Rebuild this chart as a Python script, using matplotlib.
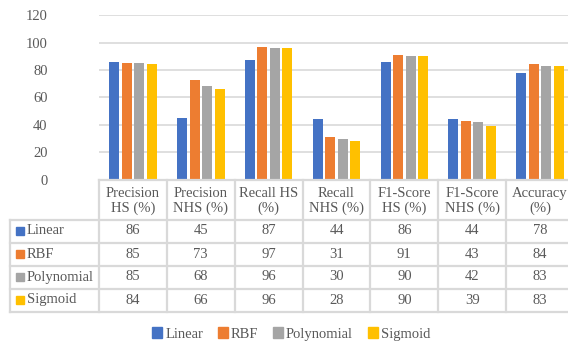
import matplotlib
matplotlib.use("Agg")
import matplotlib.pyplot as plt
from matplotlib.patches import Rectangle
import numpy as np

categories = ["Precision\nHS (%)", "Precision\nNHS (%)", "Recall HS\n(%)", "Recall\nNHS (%)",
              "F1-Score\nHS (%)", "F1-Score\nNHS (%)", "Accuracy\n(%)"]
series_names = ["Linear", "RBF", "Polynomial", "Sigmoid"]
linear = [86, 45, 87, 44, 86, 44, 78]
rbf = [85, 73, 97, 31, 91, 43, 84]
polynomial = [85, 68, 96, 30, 90, 42, 83]
sigmoid = [84, 66, 96, 28, 90, 39, 83]
series_values = [linear, rbf, polynomial, sigmoid]
colors = ["#4472C4", "#ED7D31", "#A5A5A5", "#FFC000"]
y_ticks = [0, 20, 40, 60, 80, 100, 120]

plt.rcParams["font.family"] = ["Liberation Serif", "DejaVu Serif"]
TEXT = "#595959"
GRID = "#D9D9D9"
FS = 10.5

W, H = 568, 343
fig = plt.figure(figsize=(W / 100, H / 100), dpi=100)

# chart area (pixel layout)
x0, x1 = 99, 574
y_top, y_zero = 15, 180
ax = fig.add_axes([x0 / W, 1 - y_zero / H, (x1 - x0) / W, (y_zero - y_top) / H])
ax.set_xlim(-0.5, len(categories) - 0.5)
ax.set_ylim(0, 120)
ax.set_yticks(y_ticks)
ax.set_yticklabels([str(t) for t in y_ticks], color=TEXT, fontsize=FS)
ax.tick_params(axis="y", length=0, pad=37)
ax.set_xticks([])
for s in ax.spines.values():
    s.set_visible(False)
ax.grid(axis="y", color=GRID, linewidth=1.2)
ax.set_axisbelow(True)

n = len(series_names)
x = np.arange(len(categories))
bw, step = 0.147, 0.184
for i, (vals, c) in enumerate(zip(series_values, colors)):
    ax.bar(x + (i - (n - 1) / 2) * step, vals, width=bw, color=c, zorder=3)

# data table drawn in pixel coordinates
tab = fig.add_axes([0, 0, 1, 1], zorder=5)
tab.set_xlim(0, W)
tab.set_ylim(H, 0)
tab.axis("off")
tab.patch.set_alpha(0)

col_w = (x1 - x0) / len(categories)
header_bot = 219.5
row_h = 23.0
rows_y = [header_bot + k * row_h for k in range(n + 1)]
lw = 1.6
# horizontal lines
tab.plot([x0, x1], [y_zero, y_zero], color=GRID, lw=lw)
for yy in rows_y:
    tab.plot([10, x1], [yy, yy], color=GRID, lw=lw)
# vertical lines
tab.plot([10, 10], [header_bot, rows_y[-1]], color=GRID, lw=lw)
for k in range(len(categories) + 1):
    xx = x0 + k * col_w
    tab.plot([xx, xx], [y_zero, rows_y[-1]], color=GRID, lw=lw)

for k, cat in enumerate(categories):
    cx = x0 + (k + 0.5) * col_w
    tab.text(cx, (y_zero + header_bot) / 2 + 1, cat, ha="center", va="center",
             color=TEXT, fontsize=FS, linespacing=1.15)

for r, (name, vals, c) in enumerate(zip(series_names, series_values, colors)):
    cy = rows_y[r] + row_h / 2
    tab.add_patch(Rectangle((16, cy - 4), 8, 8, color=c))
    tab.text(27, cy, name, ha="left", va="center", color=TEXT, fontsize=FS)
    for k, v in enumerate(vals):
        tab.text(x0 + (k + 0.5) * col_w, cy, str(v), ha="center", va="center",
                 color=TEXT, fontsize=FS)

# legend
handles = [Rectangle((0, 0), 1, 1, color=c) for c in colors]
fig.legend(handles, series_names, loc="center", bbox_to_anchor=(291 / W, 1 - 334 / H),
           ncol=4, frameon=False, fontsize=FS, labelcolor=TEXT,
           handlelength=0.7, handleheight=0.7, handletextpad=0.2, columnspacing=1.0)

fig.savefig("out.png", dpi=100)
